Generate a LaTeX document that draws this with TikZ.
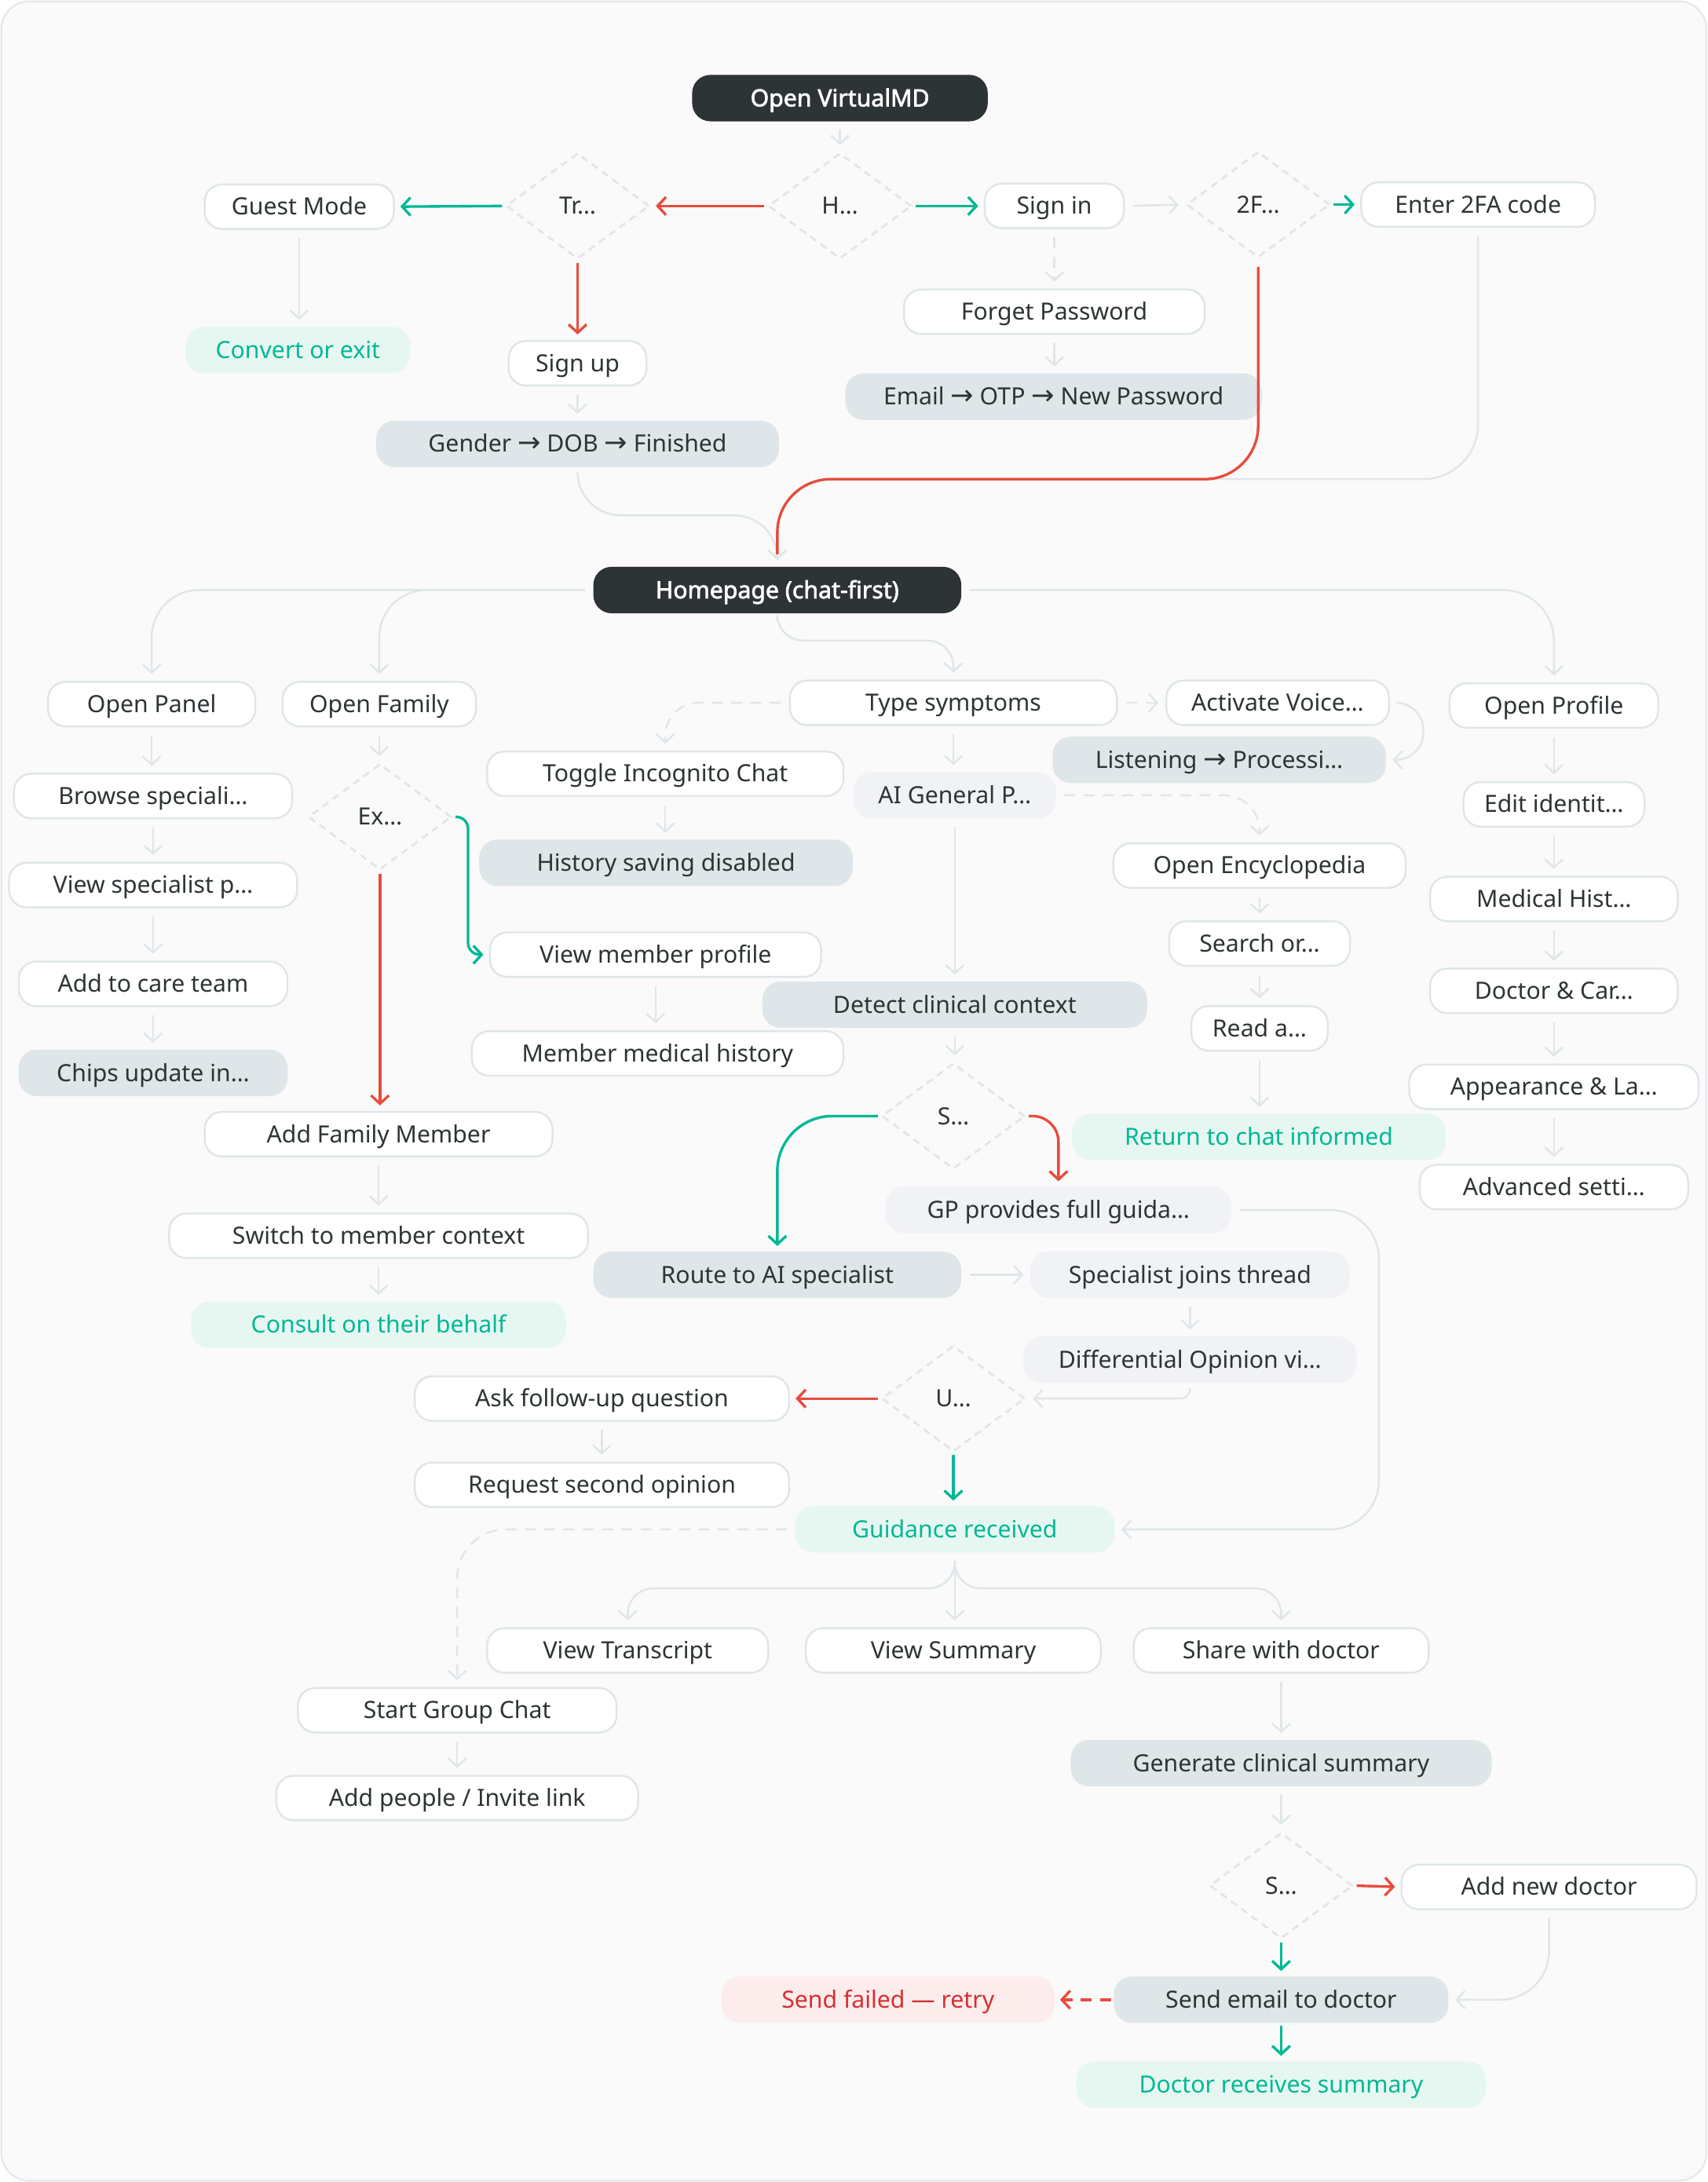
\documentclass[tikz,border=0pt]{standalone}
\usepackage{fontspec}
\setmainfont{Noto Sans}
\newfontfamily\arrowfont{DejaVu Sans}
\newfontfamily\heavyfont{Noto Sans}[FakeBold=2.2]
\usetikzlibrary{arrows.meta,shapes.geometric,calc}
\definecolor{ink}{HTML}{2D3436}
\definecolor{edge}{HTML}{DFE6E9}
\definecolor{lite}{HTML}{F1F2F5}
\definecolor{good}{HTML}{00B894}
\definecolor{goodbg}{HTML}{E6F7F2}
\definecolor{badline}{HTML}{E74C3C}
\definecolor{badtext}{HTML}{D63031}
\definecolor{badbg}{HTML}{FDECEC}
\definecolor{pagebg}{HTML}{FAFAFA}
\definecolor{frame}{HTML}{E6E6EE}
\newcommand\nodefont{\fontsize{8.6pt}{10pt}\selectfont}
\newcommand\ar{{\arrowfont\fontsize{10pt}{10pt}\selectfont →}}
\begin{document}
\begin{tikzpicture}[x=0.017726cm,y=-0.017726cm,
  wd/.style={minimum width=#1*0.017726cm},
  box/.style={rectangle, rounded corners=0.22cm, draw=edge, line width=0.7pt, fill=white,
    text=ink, minimum height=0.567cm, inner sep=0pt, font=\nodefont,
    text height=6.6pt, text depth=0.6pt},
  dark/.style={box, fill=ink, draw=ink, text=white, font=\nodefont\heavyfont},
  grey/.style={box, fill=edge, draw=edge},
  lbox/.style={box, fill=lite, draw=lite},
  gbox/.style={box, fill=goodbg, draw=goodbg, text=good},
  rbox/.style={box, fill=badbg, draw=badbg, text=badtext},
  dia/.style={diamond, draw=edge, line width=0.8pt, dash pattern=on 2.6pt off 2pt,
    minimum width=1.826cm, minimum height=1.347cm, aspect=1.36, inner sep=0pt,
    text=ink, font=\nodefont},
  conn/.style={draw=edge, line width=0.7pt, -{Straight Barb[length=3pt,width=6.5pt]},
    shorten <=3pt, shorten >=2.5pt},
  gconn/.style={draw=good, line width=0.95pt, -{Straight Barb[length=3pt,width=6.5pt]},
    shorten <=1pt, shorten >=2pt},
  rconn/.style={draw=badline, line width=0.95pt, -{Straight Barb[length=3pt,width=6.5pt]},
    shorten <=1pt, shorten >=2pt},
  dsh/.style={dash pattern=on 4pt off 3pt}
]
\useasboundingbox (0,0) rectangle (1227,1568);
\draw[fill=pagebg, draw=frame, line width=0.6pt, rounded corners=0.35cm] (1,1) rectangle (1226,1567);

% ---------- nodes ----------
\node[dark, wd=211] (open) at (603.5,70.5) {Open VirtualMD};
\node[dia] (dH) at (603.5,148) {H…};
\node[dia] (dTr) at (415,148) {Tr…};
\node[box, wd=136] (guest) at (215,148.5) {Guest Mode};
\node[box, wd=100] (signin) at (757.5,148) {Sign in};
\node[dia] (d2F) at (904,147) {2F…};
\node[box, wd=168] (enter2fa) at (1062,147) {Enter 2FA code};
\node[gbox, wd=160] (convert) at (214,251.5) {Convert or exit};
\node[box, wd=99] (signup) at (415,261) {Sign up};
\node[box, wd=216] (forget) at (757.5,224) {Forget Password};
\node[grey, wd=298] (emailotp) at (757,285) {Email \ar{} OTP \ar{} New Password};
\node[grey, wd=288] (gender) at (415,319) {Gender \ar{} DOB \ar{} Finished};
\node[dark, wd=263] (home) at (558.5,424) {Homepage (chat-first)};

\node[box, wd=149] (panel) at (109,506) {Open Panel};
\node[box, wd=139] (family) at (272.5,506) {Open Family};
\node[box, wd=235] (symptoms) at (685,505) {Type symptoms};
\node[box, wd=160] (voice) at (918,505) {Activate Voice…};
\node[box, wd=150] (profile) at (1116.5,507) {Open Profile};
\node[grey, wd=238] (listening) at (876,546) {Listening \ar{} Processi…};
\node[box, wd=256] (incognito) at (478,556) {Toggle Incognito Chat};
\node[lbox, wd=144] (aigp) at (686,571.5) {AI General P…};
\node[box, wd=130] (editid) at (1116.5,578) {Edit identit…};
\node[box, wd=200] (browse) at (110,572) {Browse speciali…};
\node[dia] (dEx) at (273,587) {Ex…};
\node[grey, wd=267] (history) at (478.5,620) {History saving disabled};
\node[box, wd=207] (viewspec) at (110,636) {View specialist p…};
\node[box, wd=210] (encyc) at (905,622) {Open Encyclopedia};
\node[box, wd=178] (medhist) at (1116.5,646) {Medical Hist…};
\node[box, wd=130] (search) at (905,678) {Search or…};
\node[box, wd=238] (viewmember) at (471,686) {View member profile};
\node[box, wd=193] (addcare) at (110,707) {Add to care team};
\node[box, wd=178] (doccar) at (1116.5,712) {Doctor \& Car…};
\node[grey, wd=275] (detect) at (686,722) {Detect clinical context};
\node[box, wd=98] (read) at (905,739) {Read a…};
\node[box, wd=267] (membermed) at (472.5,757) {Member medical history};
\node[grey, wd=192] (chips) at (110,771) {Chips update in…};
\node[box, wd=208] (appear) at (1116.5,781) {Appearance \& La…};
\node[dia] (dS) at (685,802) {S…};
\node[box, wd=250] (addfam) at (272,815) {Add Family Member};
\node[gbox, wd=267] (returnchat) at (904.5,817) {Return to chat informed};
\node[box, wd=193] (advanced) at (1116.5,853) {Advanced setti…};
\node[lbox, wd=247] (gpfull) at (760.5,869.5) {GP provides full guida…};
\node[box, wd=301] (switch) at (272,888) {Switch to member context};
\node[grey, wd=263] (route) at (558.5,916) {Route to AI specialist};
\node[lbox, wd=228] (specjoins) at (855,916) {Specialist joins thread};
\node[gbox, wd=268] (consult) at (272,952) {Consult on their behalf};
\node[lbox, wd=238] (diffop) at (855,977) {Differential Opinion vi…};
\node[dia] (dU) at (685,1005) {U…};
\node[box, wd=269] (askfollow) at (432.5,1005) {Ask follow-up question};
\node[box, wd=269] (reqsecond) at (432.5,1067) {Request second opinion};
\node[gbox, wd=228] (guidance) at (686,1099) {Guidance received};
\node[box, wd=202] (transcript) at (451,1186) {View Transcript};
\node[box, wd=212] (summary) at (685,1186) {View Summary};
\node[box, wd=212] (share) at (920.5,1186) {Share with doctor};
\node[box, wd=229] (groupchat) at (328.5,1229) {Start Group Chat};
\node[grey, wd=301] (generate) at (920.5,1267) {Generate clinical summary};
\node[box, wd=260] (addpeople) at (328.5,1292) {Add people / Invite link};
\node[dia] (dS2) at (920.5,1355) {S…};
\node[box, wd=212] (addnewdoc) at (1113,1356) {Add new doctor};
\node[rbox, wd=238] (sendfailed) at (638,1437) {Send failed — retry};
\node[grey, wd=239] (sendemail) at (920.5,1437) {Send email to doctor};
\node[gbox, wd=293] (docreceives) at (920.5,1498) {Doctor receives summary};

% ---------- connectors ----------
\draw[conn] (open.south) -- (dH.north);
\draw[rconn] (dH.west) -- (dTr.east);
\draw[gconn] (dTr.west) -- (guest.east);
\draw[gconn] (dH.east) -- (signin.west);
\draw[conn] (signin.east) -- (d2F.west);
\draw[gconn] (d2F.east) -- (enter2fa.west);
\draw[conn] (guest.south) -- (guest.south |- convert.north);
\draw[rconn] (dTr.south) -- (signup.north);
\draw[conn, dsh] (signin.south) -- (signin.south |- forget.north);
\draw[conn] (forget.south) -- (forget.south |- emailotp.north);
\draw[conn] (signup.south) -- (gender.north);
\draw[conn, rounded corners=0.55cm] (gender.south) |- ($(home.north)+(0,-37)$) -- (home.north);
\draw[conn, rounded corners=0.7cm] (enter2fa.south) |- ($(home.north)+(0,-63)$) -- (home.north);
\draw[draw=badline, line width=0.95pt, shorten <=3pt, rounded corners=0.68cm]
  (d2F.south) |- ($(home.north)+(0,-63)$) -- ($(home.north)+(0,-9)$);

\draw[conn, rounded corners=0.6cm] (home.west) -| (panel.north);
\draw[conn, rounded corners=0.6cm] (home.west) -| (family.north);
\draw[conn, rounded corners=0.33cm] (home.south) |- ($(symptoms.north)+(0,-28)$) -- (symptoms.north);
\draw[conn, rounded corners=0.65cm] (home.east) -| (profile.north);

\draw[conn, dsh] (symptoms.east) -- (voice.west);
\draw[conn, rounded corners=0.35cm] (voice.east) -- ++(24,0) |- (listening.east);
\draw[conn, dsh, rounded corners=0.42cm] (symptoms.west) -| (incognito.north);
\draw[conn] (symptoms.south) -- (symptoms.south |- aigp.north);
\draw[conn] (incognito.south) -- (incognito.south |- history.north);
\draw[conn, dsh, rounded corners=0.45cm] (aigp.east) -| (encyc.north);
\draw[conn] (aigp.south) -- (aigp.south |- detect.north);
\draw[conn] (detect.south) -- (detect.south |- dS.north);
\draw[gconn, rounded corners=0.7cm] (dS.west) -| (route.north);
\draw[rconn, rounded corners=0.33cm] (dS.east) -| (gpfull.north);

\draw[conn] (encyc.south) -- (encyc.south |- search.north);
\draw[conn] (search.south) -- (search.south |- read.north);
\draw[conn] (read.south) -- (read.south |- returnchat.north);

\draw[conn] (profile.south) -- (profile.south |- editid.north);
\draw[conn] (editid.south) -- (editid.south |- medhist.north);
\draw[conn] (medhist.south) -- (medhist.south |- doccar.north);
\draw[conn] (doccar.south) -- (doccar.south |- appear.north);
\draw[conn] (appear.south) -- (appear.south |- advanced.north);

\draw[conn] (panel.south) -- (panel.south |- browse.north);
\draw[conn] (browse.south) -- (browse.south |- viewspec.north);
\draw[conn] (viewspec.south) -- (viewspec.south |- addcare.north);
\draw[conn] (addcare.south) -- (addcare.south |- chips.north);

\draw[conn] (family.south) -- (family.south |- dEx.north);
\draw[rconn] (dEx.south) -- (dEx.south |- addfam.north);
\draw[gconn, rounded corners=0.15cm] (dEx.east) -- ++(11,0) |- (viewmember.west);
\draw[conn] (viewmember.south) -- (viewmember.south |- membermed.north);
\draw[conn] (addfam.south) -- (addfam.south |- switch.north);
\draw[conn] (switch.south) -- (switch.south |- consult.north);

\draw[conn] (route.east) -- (specjoins.west);
\draw[conn] (specjoins.south) -- (specjoins.south |- diffop.north);
\draw[conn, shorten <=2pt, rounded corners=0.12cm] (diffop.south) |- (dU.east);
\draw[rconn] (dU.west) -- (askfollow.east);
\draw[conn] (askfollow.south) -- (askfollow.south |- reqsecond.north);
\draw[gconn] (dU.south) -- (dU.south |- guidance.north);
\draw[conn, rounded corners=0.62cm] (gpfull.east) -- ++(106,0) |- (guidance.east);

\draw[conn, dsh, rounded corners=0.62cm] (guidance.west) -| (groupchat.north);
\draw[conn, rounded corners=0.33cm] (guidance.south) |- ($(transcript.north)+(0,-28)$) -- (transcript.north);
\draw[conn] (guidance.south) -- (guidance.south |- summary.north);
\draw[conn, rounded corners=0.33cm] (guidance.south) |- ($(share.north)+(0,-28)$) -- (share.north);
\draw[conn] (groupchat.south) -- (groupchat.south |- addpeople.north);

\draw[conn] (share.south) -- (share.south |- generate.north);
\draw[conn] (generate.south) -- (generate.south |- dS2.north);
\draw[rconn] (dS2.east) -- (addnewdoc.west);
\draw[gconn] (dS2.south) -- (dS2.south |- sendemail.north);
\draw[conn, rounded corners=0.62cm] (addnewdoc.south) |- (sendemail.east);
\draw[rconn, dsh] (sendemail.west) -- (sendfailed.east);
\draw[gconn] (sendemail.south) -- (sendemail.south |- docreceives.north);
\end{tikzpicture}
\end{document}
